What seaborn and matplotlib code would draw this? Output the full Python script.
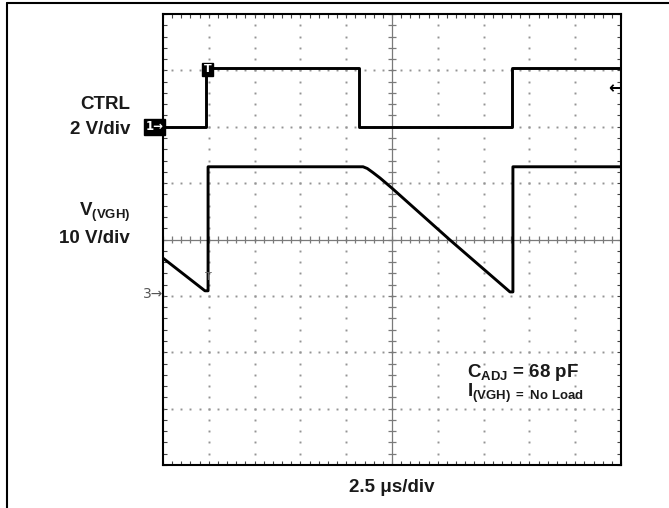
import numpy as np
import matplotlib
matplotlib.use('Agg')
import matplotlib.pyplot as plt
from matplotlib.lines import Line2D
import seaborn as sns

# Scope settings
TIME_PER_DIV_US = 2.5
CTRL_V_PER_DIV = 2
VGH_V_PER_DIV = 10
CTRL_GROUND_DIV = 2    # channel 1 marker, divisions above centre
VGH_GROUND_DIV = -1    # channel 3 marker

# CTRL trace (time in us, volts)
ctrl_time_us = [0.0, 2.35, 2.35, 10.7, 10.7, 19.05, 19.05, 25.0]
ctrl_volts = [0.0, 0.0, 2.07, 2.07, 0.0, 0.0, 2.07, 2.07]

# V(VGH) trace (time in us, volts)
vgh_time_us = [0.0, 2.29, 2.46, 2.46, 10.92, 11.15, 11.45, 11.85, 12.50,
               15.67, 18.94, 19.10, 19.10, 25.0]
vgh_volts = [6.7, 0.9, 0.9, 22.9, 22.9, 22.6, 21.9, 20.9, 19.1,
             9.9, 0.7, 0.7, 22.9, 22.9]

W, H = 669, 508


def px(x, y):
    """Pixel position -> figure fraction"""
    return x / W, 1 - y / H


def to_div(volts, per_div, ground):
    return [v / per_div + ground for v in volts]


def draw_graticule(ax):
    """Dotted grid, centre crosshair and border ticks"""
    span_x = 10 * TIME_PER_DIV_US
    minor_x = np.arange(0, span_x + 0.01, TIME_PER_DIV_US / 5)
    minor_y = np.arange(-4, 4.01, 0.2)

    for k in range(1, 10):
        if k == 5:
            continue
        xv = k * TIME_PER_DIV_US
        ax.plot(np.full_like(minor_y, xv), minor_y, ls='none', marker='s',
                ms=1.4, mew=0, color='#949494', zorder=1)
    for k in range(-3, 4):
        if k == 0:
            continue
        ax.plot(minor_x, np.full_like(minor_x, k), ls='none', marker='s',
                ms=1.4, mew=0, color='#949494', zorder=1)

    cx = span_x / 2
    ax.axhline(0, color='#7a7a7a', lw=0.9, zorder=1)
    ax.axvline(cx, color='#7a7a7a', lw=0.9, zorder=1)
    ax.vlines(minor_x, -0.07, 0.07, color='#7a7a7a', lw=0.9, zorder=1)
    ax.hlines(minor_y, cx - 0.22, cx + 0.22, color='#7a7a7a', lw=0.9, zorder=1)

    ax.set_xlim(0, span_x)
    ax.set_ylim(-4, 4)
    ax.set_xticks(minor_x)
    ax.set_yticks(minor_y)
    ax.tick_params(direction='in', length=3, width=0.8, color='#444',
                   top=True, bottom=True, left=True, right=True,
                   labelbottom=False, labelleft=False)
    for s in ax.spines.values():
        s.set_visible(True)
        s.set_color('black')
        s.set_linewidth(1.5)


def draw_traces(ax):
    ctrl_div = to_div(ctrl_volts, CTRL_V_PER_DIV, CTRL_GROUND_DIV)
    vgh_div = to_div(vgh_volts, VGH_V_PER_DIV, VGH_GROUND_DIV)
    sns.lineplot(x=ctrl_time_us, y=ctrl_div, estimator=None, sort=False,
                 color='black', lw=2.1, ax=ax, zorder=3)
    sns.lineplot(x=vgh_time_us, y=vgh_div, estimator=None, sort=False,
                 color='black', lw=2.1, ax=ax, zorder=3)


def draw_markers(ax):
    """Channel / trigger markers from the scope screen"""
    mk = dict(family='DejaVu Sans', clip_on=False, ha='center', va='center', zorder=5)
    ax.text(-0.47, CTRL_GROUND_DIV, '1\u2192', color='white', fontsize=8.5,
            fontweight='bold',
            bbox=dict(boxstyle='square,pad=0.12', fc='black', ec='black'), **mk)
    ax.text(2.43, 3.02, 'T', color='white', fontsize=8, fontweight='bold',
            bbox=dict(boxstyle='square,pad=0.12', fc='black', ec='black'), **mk)
    ax.text(-0.55, VGH_GROUND_DIV + 0.03, '3\u2192', color='#555555', fontsize=10, **mk)
    ax.text(2.50, -0.66, 'T', color='#666666', fontsize=8, **mk)
    ax.text(24.70, 2.69, '\u2190', color='black', fontsize=12, fontweight='bold', **mk)


def add_labels(fig):
    lab = dict(fontsize=13.5, fontweight='bold', va='baseline', color='#1a1a1a')
    fig.text(*px(130, 109), 'CTRL', ha='right', **lab)
    fig.text(*px(130, 134), '2 V/div', ha='right', **lab)
    fig.text(*px(130, 216), r'V$_{\mathrm{(VGH)}}$', ha='right', **lab)
    fig.text(*px(130, 243), '10 V/div', ha='right', **lab)
    fig.text(*px(467, 377), r'C$_{\mathrm{ADJ}}$ = 68 pF', ha='left', **lab)
    fig.text(*px(467, 397), r'I$_{\mathrm{(VGH)\ {=}\ No\ Load}}$', ha='left', **lab)
    fig.text(*px(392, 492), '2.5 \u03bcs/div', ha='center', **lab)

    # outer frame of the figure (left and top edges only)
    fig.add_artist(Line2D([7 / W, 7 / W], [0, 1 - 3 / H],
                          transform=fig.transFigure, color='black', lw=1.5))
    fig.add_artist(Line2D([7 / W, 1], [1 - 3 / H, 1 - 3 / H],
                          transform=fig.transFigure, color='black', lw=1.5))


def main():
    sns.set_style('white')
    plt.rcParams['font.family'] = ['Liberation Sans', 'DejaVu Sans']
    plt.rcParams['mathtext.fontset'] = 'custom'
    plt.rcParams['mathtext.rm'] = 'Liberation Sans:bold'
    plt.rcParams['mathtext.it'] = 'Liberation Sans:bold'
    plt.rcParams['mathtext.bf'] = 'Liberation Sans:bold'

    fig = plt.figure(figsize=(W / 100, H / 100), dpi=100)
    ax = fig.add_axes([163 / W, 43 / H, 458 / W, 451 / H])

    draw_graticule(ax)
    draw_traces(ax)
    draw_markers(ax)
    add_labels(fig)

    fig.savefig('out.png', dpi=100, facecolor='white')
    print("saved out.png")


if __name__ == "__main__":
    main()
